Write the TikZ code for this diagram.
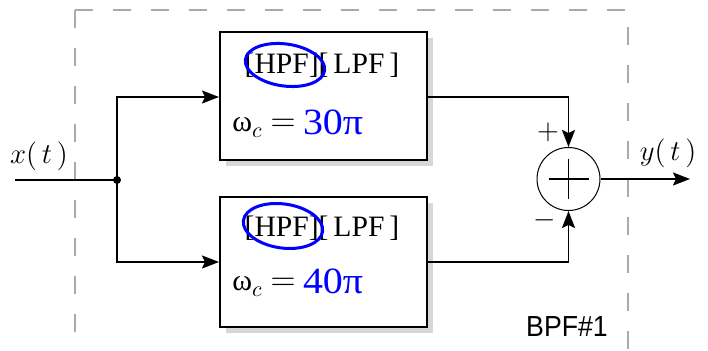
\documentclass[tikz,border=0pt]{standalone}
\usepackage{fontspec}
\setmainfont{Liberation Serif}
\newfontfamily\sansf{Liberation Sans}
\usetikzlibrary{arrows.meta,shadows}
\definecolor{dashgray}{RGB}{170,170,170}
\definecolor{shadowgray}{RGB}{215,215,215}
\newcommand{\bignum}[1]{\raisebox{-1.5pt}{\textcolor{blue}{\scalebox{1.08}[1]{\fontsize{18.5}{20}\selectfont #1}}}}
\begin{document}
\begin{tikzpicture}[x=0.5pt,y=-0.5pt,
  filterbox/.style={draw,line width=1pt,fill=white,minimum width=103.5pt,minimum height=64pt,
    drop shadow={shadow xshift=3pt,shadow yshift=-3pt,fill=shadowgray,opacity=1}},
  conn/.style={line width=0.9pt},
  arr/.style={conn,-{Stealth[length=8.5pt,width=6.5pt,inset=1.5pt]}},
  sumnode/.style={draw,circle,line width=0.5pt,minimum size=31.5pt,inner sep=0pt},
  boundary/.style={dashgray,line width=1pt,dash pattern=on 9pt off 10pt},
  filtlabel/.style={font=\fontsize{14.8}{16}\selectfont},
  wlabel/.style={anchor=base west,inner sep=0pt,font=\fontsize{15}{18}\selectfont},
  siglabel/.style={font=\fontsize{14}{16}\selectfont}
]
\useasboundingbox (0,0) rectangle (708,351);
% boundary
\draw[boundary] (75,10) -- (75,360);
\draw[boundary] (75,10) -- (628,10) -- (628,360);

% filter boxes
\node[filterbox] (top) at (323.5,96.5) {};
\node[filterbox,minimum height=65pt] (bot) at (323.5,262) {};

\node[filtlabel] (toplab) at (322,65) {[HPF][\,LPF\,]};
\node[filtlabel] (botlab) at (322,228) {[HPF][\,LPF\,]};
\draw[blue,line width=1.5pt,rotate around={-8:(285,65)}] (285,65) ellipse [x radius=20pt,y radius=10.5pt];
\draw[blue,line width=1.5pt,rotate around={-8:(283,226)}] (283,226) ellipse [x radius=20pt,y radius=11pt];

\node[wlabel] (topw) at (232,132) {ω{\fontsize{16}{18}\selectfont$_c$ $=$} \bignum{30π}};
\node[wlabel] (botw) at (232,291) {ω{\fontsize{16}{18}\selectfont$_c$ $=$} \bignum{40π}};

% input
\coordinate (in) at (15,180);
\coordinate (jn) at (117,180);
\coordinate (jtop) at (117,97);
\coordinate (jbot) at (117,262);
\draw[conn] (in) -- (jn);
\fill (jn) circle [radius=2pt];
\draw[arr] (jn) -- (jtop) -- (top.west |- jtop);
\draw[arr] (jn) -- (jbot) -- (bot.west |- jbot);
\node[siglabel] (xlab) at (39,156) {$x(\,t\,)$};

% sum
\node[sumnode] (sum) at (568.5,179) {};
\draw[line width=0.8pt] ([xshift=-10pt]sum.center) -- ([xshift=10pt]sum.center)
  ([yshift=-10pt]sum.center) -- ([yshift=10pt]sum.center);
\draw[arr] (top.east |- jtop) -| (sum.north);
\draw[arr] (bot.east |- jbot) -| (sum.south);
\node[siglabel] (plus) at (548,132) {$+$};
\node[siglabel] (minus) at (545,220) {$-$};

% output
\coordinate (out) at (690,179);
\draw[arr] (sum.east) -- (out);
\node[siglabel] (ylab) at (668,153) {$y(\,t\,)$};

\node (bpf) at (567,326.5) {\sansf\scalebox{0.92}[1]{\fontsize{14.5}{15}\selectfont BPF\#1}};
\end{tikzpicture}
\end{document}
